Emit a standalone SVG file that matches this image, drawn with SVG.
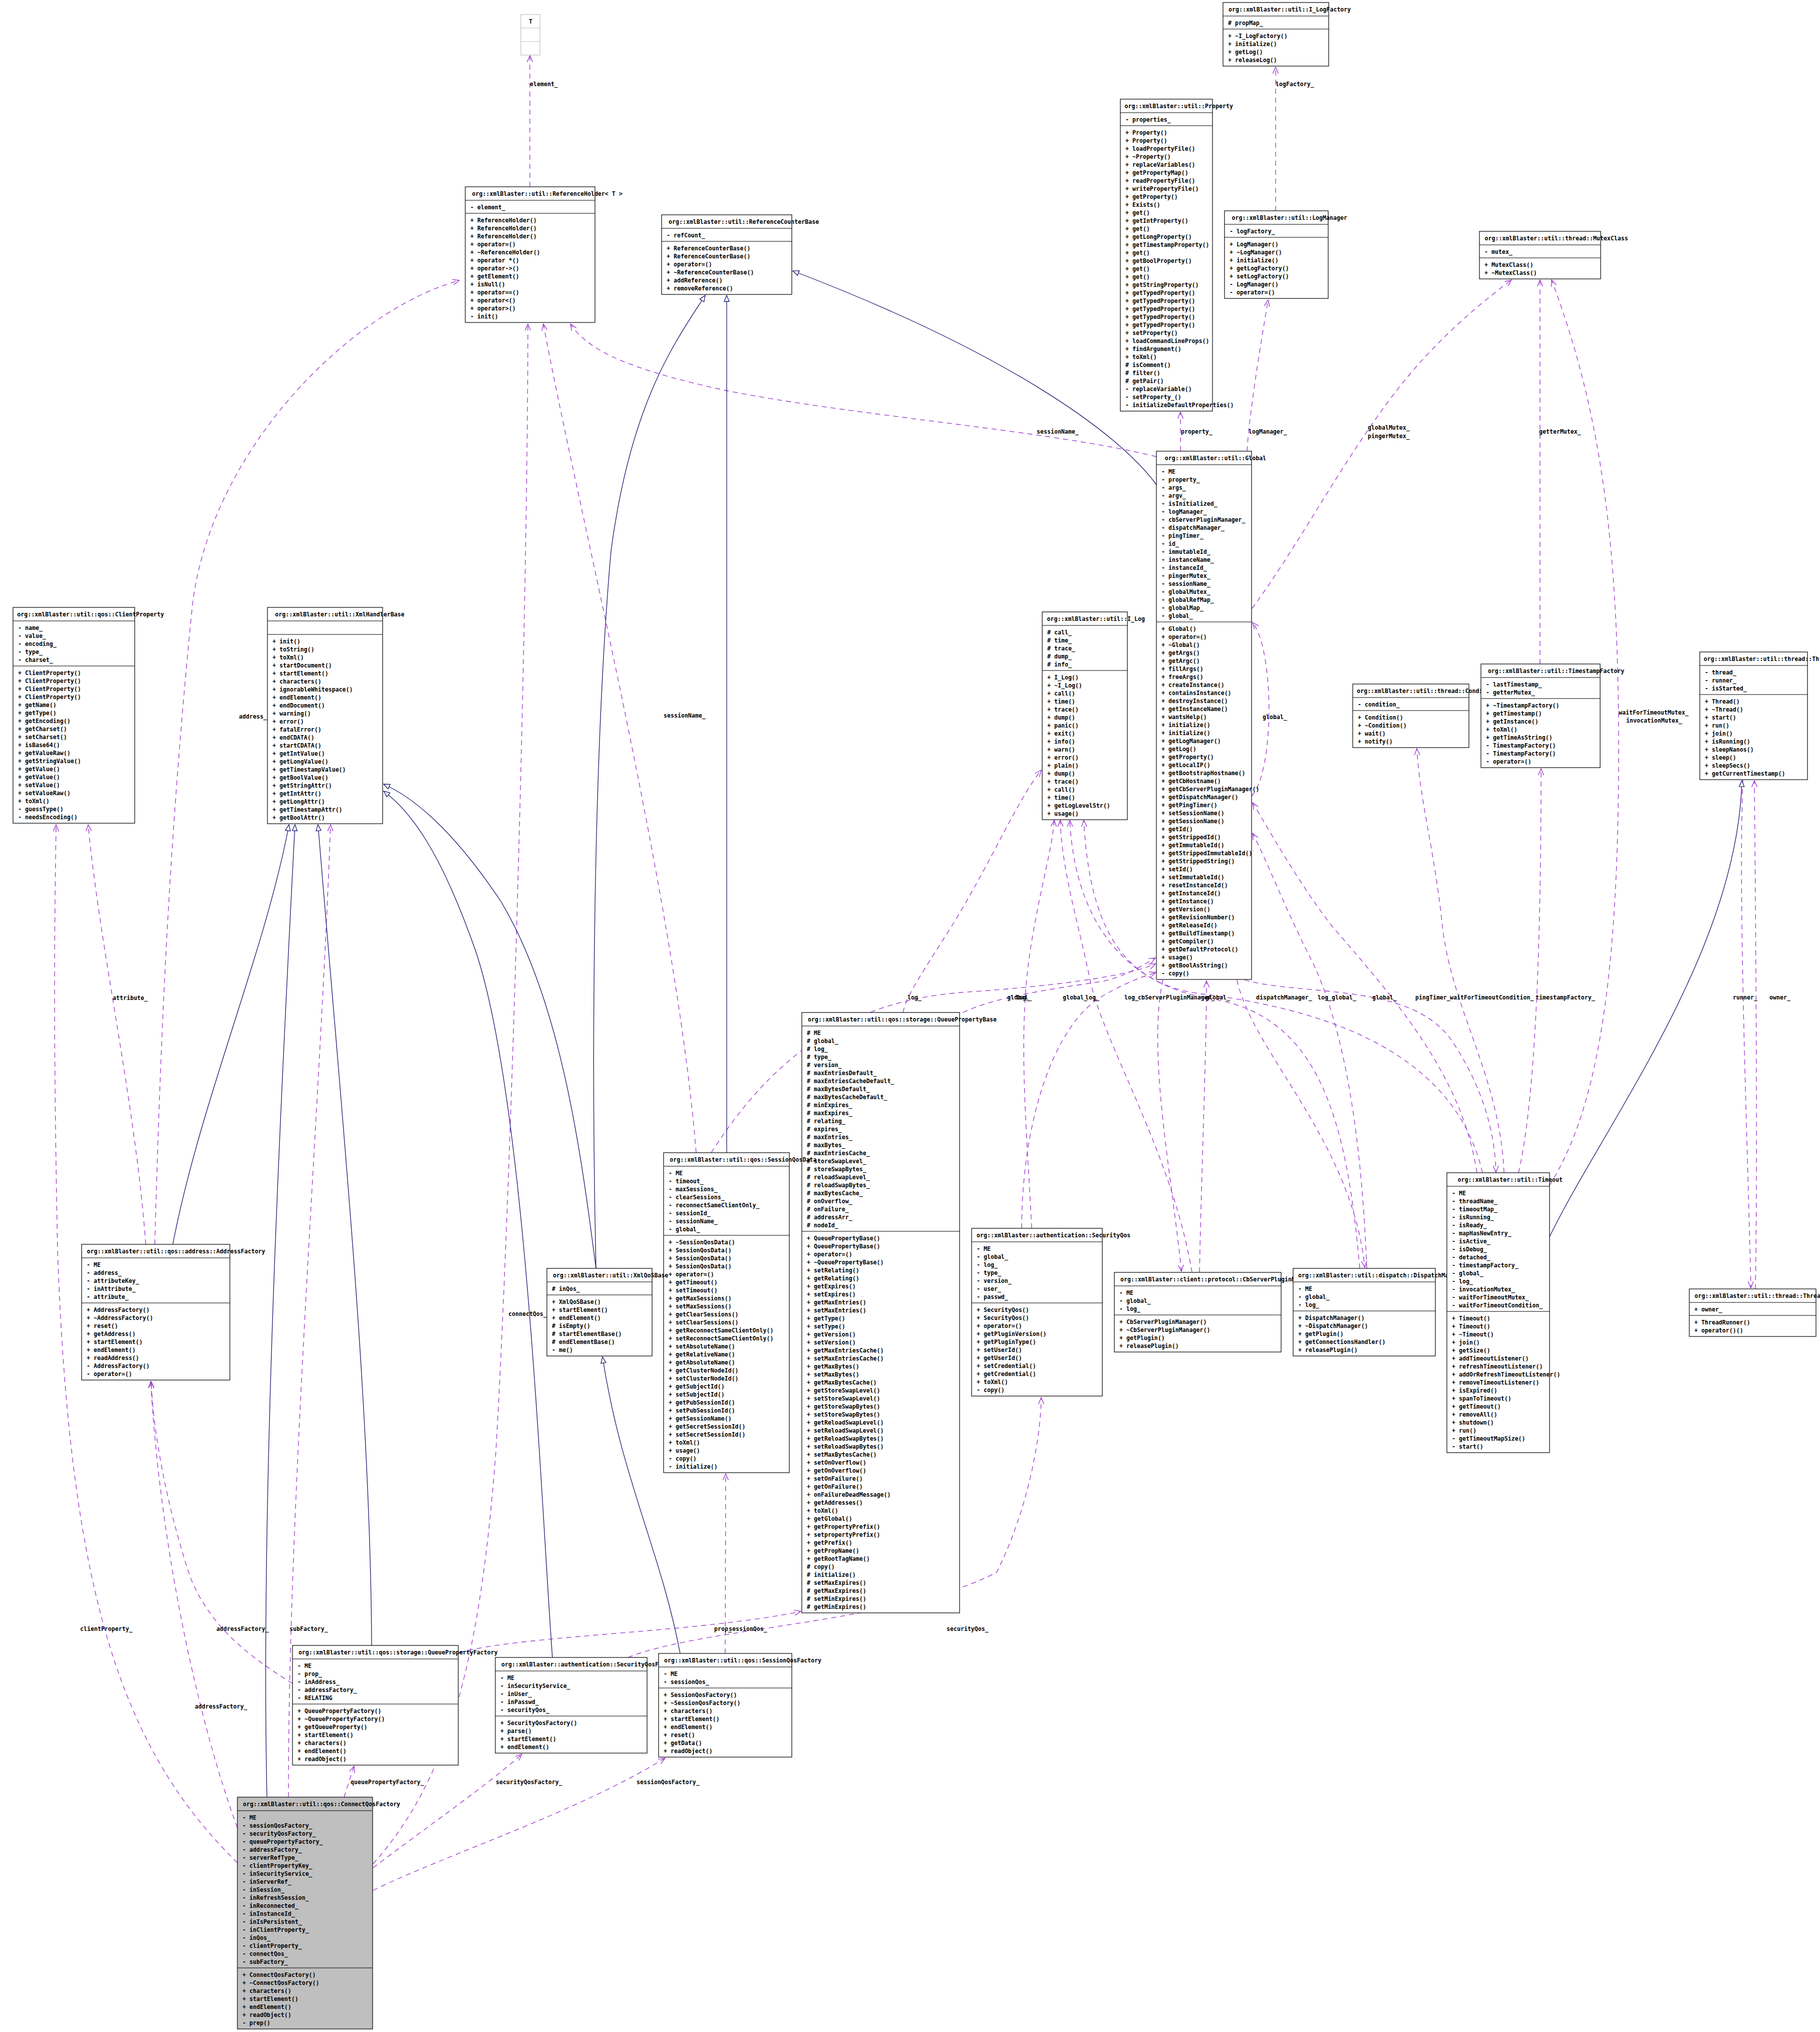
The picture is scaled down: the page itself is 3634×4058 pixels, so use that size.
<svg xmlns="http://www.w3.org/2000/svg" width="3634" height="4058" viewBox="0 0 3634 4058">
<style>
text{font-family:"DejaVu Sans Mono","Liberation Mono",monospace;font-size:11.6px;font-weight:bold;fill:#000}
.bx{fill:#fff;stroke:#000;stroke-width:1.2}
.gy{fill:#fff;stroke:#bfbfbf;stroke-width:1.2}
.cq{fill:#bfbfbf;stroke:#000;stroke-width:1.2}
.sp{stroke:#000;stroke-width:1.2}
.sg{stroke:#bfbfbf;stroke-width:1.2}
.u{fill:none;stroke:#9a32cd;stroke-width:1.3;stroke-dasharray:10 8;marker-end:url(#v)}
.i{fill:none;stroke:#191970;stroke-width:1.3;marker-end:url(#t)}
</style>
<defs>
<marker id="v" viewBox="0 0 14 12" refX="13" refY="6" markerWidth="14" markerHeight="12" markerUnits="userSpaceOnUse" orient="auto"><path d="M0,0.5 L13,6 L0,11.5" fill="none" stroke="#9a32cd" stroke-width="1.3"/></marker>
<marker id="t" viewBox="0 0 14 12" refX="13" refY="6" markerWidth="14" markerHeight="12" markerUnits="userSpaceOnUse" orient="auto"><path d="M1,1 L13,6 L1,11 Z" fill="#fff" stroke="#191970" stroke-width="1.3"/></marker>
</defs>
<rect x="0" y="0" width="3634" height="4058" fill="#fff"/>

<g id="connectors">
<path class="u" d="M1058,373 L1058,111"/>
<path class="u" d="M2547,421 L2547,134"/>
<path class="u" d="M2357,901 L2357,823"/>
<path class="u" d="M2490,901 C2494,830 2515,700 2532,599"/>
<path class="u" d="M2309,912 C2100,860 1700,830 1450,780 C1290,745 1180,710 1139,647"/>
<path class="u" d="M2500,1215 C2600,1080 2690,900 2810,753 C2880,670 2950,610 3018,559"/>
<path class="u" d="M3075,1326 L3075,559"/>
<path class="u" d="M3094,2367 C3180,2230 3232,2000 3232,1500 C3232,1100 3200,830 3098,559"/>
<path class="u" d="M2499,1590 C2545,1540 2545,1300 2501,1243"/>
<path class="u" d="M2485,1957 C2600,1990 2820,1960 2900,2080 C2960,2170 2985,2260 2987,2341"/>
<path class="u" d="M3003,2342 C2995,2150 2900,2020 2880,1850 C2865,1700 2835,1600 2829,1495"/>
<path class="u" d="M3032,2342 C3065,2200 3077,1900 3077,1535"/>
<path class="u" d="M3480,1558 C3470,1800 3490,2300 3496,2572"/>
<path class="u" d="M3505,2574 C3510,2300 3505,1800 3503,1559"/>
<path class="u" d="M2949,2342 C2920,2150 2790,2000 2660,1850 C2590,1760 2530,1650 2501,1603"/>
<path class="u" d="M2960,2342 C2900,2080 2600,2010 2400,1985 C2240,1965 2175,1850 2164,1638"/>
<path class="u" d="M2729,2533 C2720,2300 2690,2050 2610,1900 C2560,1800 2530,1720 2501,1664"/>
<path class="u" d="M2715,2533 C2690,2250 2640,2030 2420,1995 C2230,1965 2145,1820 2136,1638"/>
<path class="u" d="M2470,1957 C2500,2100 2700,2280 2725,2531"/>
<path class="u" d="M2395,2541 C2400,2300 2409,2100 2409,1959"/>
<path class="u" d="M2322,1957 C2290,2100 2340,2350 2359,2539"/>
<path class="u" d="M2380,2541 C2340,2300 2200,2080 2175,1950 C2155,1850 2120,1740 2117,1638"/>
<path class="u" d="M2040,2453 C2040,2250 2100,2050 2200,1990 C2250,1960 2290,1948 2308,1942"/>
<path class="u" d="M2060,2453 C2050,2250 2030,2050 2060,1880 C2080,1760 2100,1700 2105,1638"/>
<path class="u" d="M1803,2022 C1810,1990 1830,1960 1900,1850 C1980,1720 2030,1600 2079,1538"/>
<path class="u" d="M1923,2022 C1990,1990 2100,1975 2200,1960 C2250,1950 2285,1925 2307,1913"/>
<path class="u" d="M1420,2302 C1550,2100 1700,2000 1919,1982 C2100,1970 2250,1950 2307,1925"/>
<path class="u" d="M1390,2302 C1350,1800 1150,1000 1085,647"/>
<path class="u" d="M745,3722 C900,3550 960,3300 990,2900 C1020,2400 1054,1200 1054,647"/>
<path class="u" d="M576,3589 C575,3000 640,2200 660,1647"/>
<path class="u" d="M474,3720 C250,3500 140,3200 115,2500 C105,2000 110,1800 112,1647"/>
<path class="u" d="M474,3650 C400,3450 320,3100 301,2759"/>
<path class="u" d="M584,3362 C500,3310 420,3250 380,3150 C330,3000 305,2850 302,2759"/>
<path class="u" d="M291,2485 C270,2200 200,1900 176,1647"/>
<path class="u" d="M309,2485 C320,2100 335,1700 384,1210 C420,900 700,620 917,560"/>
<path class="u" d="M687,3589 L707,3527"/>
<path class="u" d="M745,3730 C850,3650 980,3560 1042,3503"/>
<path class="u" d="M745,3775 C900,3700 1150,3620 1328,3511"/>
<path class="u" d="M917,3300 C1050,3265 1400,3260 1599,3218"/>
<path class="u" d="M1448,3302 L1449,2943"/>
<path class="u" d="M1254,3310 C1400,3250 1800,3240 1990,3140 C2060,3000 2079,2850 2079,2791"/>
<path class="i" d="M2309,968 C2230,860 2000,700 1583,541"/>
<path class="i" d="M1451,2302 L1451,590"/>
<path class="i" d="M1190,2533 C1180,2100 1185,1500 1220,1100 C1260,800 1350,680 1408,590"/>
<path class="i" d="M1190,2533 C1160,2300 1120,2000 1000,1800 C900,1650 820,1590 766,1566"/>
<path class="i" d="M1103,3310 C1080,3000 1050,2200 950,1900 C880,1700 820,1620 766,1580"/>
<path class="i" d="M1358,3302 C1320,3100 1240,2950 1203,2710"/>
<path class="i" d="M742,3286 C740,2800 680,2200 635,1647"/>
<path class="i" d="M533,3589 C520,3000 560,2200 589,1647"/>
<path class="i" d="M345,2485 C400,2200 530,1900 577,1647"/>
<path class="i" d="M3093,2472 C3200,2250 3470,1900 3478,1559"/>
<text x="1058" y="172">element_</text>
<text x="2547" y="172">logFactory_</text>
<text x="2358" y="866">property_</text>
<text x="2493" y="866">logManager_</text>
<text x="2070" y="866">sessionName_</text>
<text x="2731" y="858">globalMutex_</text>
<text x="2731" y="875">pingerMutex_</text>
<text x="3073" y="866">getterMutex_</text>
<text x="3232" y="1427">waitForTimeoutMutex_</text>
<text x="3247" y="1443">invocationMutex_</text>
<text x="2521" y="1436">global_</text>
<text x="1325" y="1433">sessionName_</text>
<text x="477" y="1435">address_</text>
<text x="225" y="1997">attribute_</text>
<text x="1812" y="1996">log_</text>
<text x="2011" y="1996">global_</text>
<text x="2028" y="1996">log_</text>
<text x="2122" y="1996">global_</text>
<text x="2167" y="1996">log_</text>
<text x="2245" y="1996">log_</text>
<text x="2272" y="1996">cbServerPluginManager_</text>
<text x="2407" y="1996">global_</text>
<text x="2508" y="1996">dispatchManager_</text>
<text x="2631" y="1996">log_</text>
<text x="2659" y="1996">global_</text>
<text x="2740" y="1996">global_</text>
<text x="2826" y="1996">pingTimer_</text>
<text x="2895" y="1996">waitForTimeoutCondition_</text>
<text x="3066" y="1996">timestampFactory_</text>
<text x="3460" y="1996">runner_</text>
<text x="3533" y="1996">owner_</text>
<text x="1015" y="2628">connectQos_</text>
<text x="160" y="3257">clientProperty_</text>
<text x="432" y="3257">addressFactory_</text>
<text x="578" y="3257">subFactory_</text>
<text x="1426" y="3257">prop_</text>
<text x="1455" y="3257">sessionQos_</text>
<text x="1890" y="3257">securityQos_</text>
<text x="389" y="3412">addressFactory_</text>
<text x="700" y="3563">queuePropertyFactory_</text>
<text x="990" y="3563">securityQosFactory_</text>
<text x="1271" y="3563">sessionQosFactory_</text>
</g>

<g id="n_T">
<rect class="gy" x="1040" y="29" width="38" height="81"/>
<line class="sg" x1="1040" y1="56" x2="1078" y2="56"/><line class="sg" x1="1040" y1="83" x2="1078" y2="83"/>
<text x="1056" y="47">T</text>
</g>

<g id="n_ReferenceHolder">
<rect class="bx" x="929" y="373" width="259" height="271"/>
<line class="sp" x1="929" y1="400" x2="1188" y2="400"/><line class="sp" x1="929" y1="426" x2="1188" y2="426"/>
<text x="942.6" y="391">org::xmlBlaster::util::ReferenceHolder&lt; T &gt;</text>
<text x="939" y="418">- element_</text>
<text x="939" y="444"><tspan x="939">+ ReferenceHolder()</tspan><tspan x="939" dy="16">+ ReferenceHolder()</tspan><tspan x="939" dy="16">+ ReferenceHolder()</tspan><tspan x="939" dy="16">+ operator=()</tspan><tspan x="939" dy="16">+ ~ReferenceHolder()</tspan><tspan x="939" dy="16">+ operator *()</tspan><tspan x="939" dy="16">+ operator-&gt;()</tspan><tspan x="939" dy="16">+ getElement()</tspan><tspan x="939" dy="16">+ isNull()</tspan><tspan x="939" dy="16">+ operator==()</tspan><tspan x="939" dy="16">+ operator&lt;()</tspan><tspan x="939" dy="16">+ operator&gt;()</tspan><tspan x="939" dy="16">- init()</tspan></text>
</g>

<g id="n_ReferenceCounterBase">
<rect class="bx" x="1321" y="429" width="260" height="159"/>
<line class="sp" x1="1321" y1="456" x2="1581" y2="456"/><line class="sp" x1="1321" y1="482" x2="1581" y2="482"/>
<text x="1335" y="447">org::xmlBlaster::util::ReferenceCounterBase</text>
<text x="1331" y="474">- refCount_</text>
<text x="1331" y="500"><tspan x="1331">+ ReferenceCounterBase()</tspan><tspan x="1331" dy="16">+ ReferenceCounterBase()</tspan><tspan x="1331" dy="16">+ operator=()</tspan><tspan x="1331" dy="16">+ ~ReferenceCounterBase()</tspan><tspan x="1331" dy="16">+ addReference()</tspan><tspan x="1331" dy="16">+ removeReference()</tspan></text>
</g>

<g id="n_I_LogFactory">
<rect class="bx" x="2442" y="5" width="211" height="127"/>
<line class="sp" x1="2442" y1="32" x2="2653" y2="32"/><line class="sp" x1="2442" y1="58" x2="2653" y2="58"/>
<text x="2453" y="23">org::xmlBlaster::util::I_LogFactory</text>
<text x="2452" y="50"># propMap_</text>
<text x="2452" y="76"><tspan x="2452">+ ~I_LogFactory()</tspan><tspan x="2452" dy="16">+ initialize()</tspan><tspan x="2452" dy="16">+ getLog()</tspan><tspan x="2452" dy="16">+ releaseLog()</tspan></text>
</g>

<g id="n_Property">
<rect class="bx" x="2237" y="198" width="184" height="623"/>
<line class="sp" x1="2237" y1="225" x2="2421" y2="225"/><line class="sp" x1="2237" y1="251" x2="2421" y2="251"/>
<text x="2245.5" y="216">org::xmlBlaster::util::Property</text>
<text x="2247" y="243">- properties_</text>
<text x="2247" y="269"><tspan x="2247">+ Property()</tspan><tspan x="2247" dy="16">+ Property()</tspan><tspan x="2247" dy="16">+ loadPropertyFile()</tspan><tspan x="2247" dy="16">+ ~Property()</tspan><tspan x="2247" dy="16">+ replaceVariables()</tspan><tspan x="2247" dy="16">+ getPropertyMap()</tspan><tspan x="2247" dy="16">+ readPropertyFile()</tspan><tspan x="2247" dy="16">+ writePropertyFile()</tspan><tspan x="2247" dy="16">+ getProperty()</tspan><tspan x="2247" dy="16">+ Exists()</tspan><tspan x="2247" dy="16">+ get()</tspan><tspan x="2247" dy="16">+ getIntProperty()</tspan><tspan x="2247" dy="16">+ get()</tspan><tspan x="2247" dy="16">+ getLongProperty()</tspan><tspan x="2247" dy="16">+ getTimestampProperty()</tspan><tspan x="2247" dy="16">+ get()</tspan><tspan x="2247" dy="16">+ getBoolProperty()</tspan><tspan x="2247" dy="16">+ get()</tspan><tspan x="2247" dy="16">+ get()</tspan><tspan x="2247" dy="16">+ getStringProperty()</tspan><tspan x="2247" dy="16">+ getTypedProperty()</tspan><tspan x="2247" dy="16">+ getTypedProperty()</tspan><tspan x="2247" dy="16">+ getTypedProperty()</tspan><tspan x="2247" dy="16">+ getTypedProperty()</tspan><tspan x="2247" dy="16">+ getTypedProperty()</tspan><tspan x="2247" dy="16">+ setProperty()</tspan><tspan x="2247" dy="16">+ loadCommandLineProps()</tspan><tspan x="2247" dy="16">+ findArgument()</tspan><tspan x="2247" dy="16">+ toXml()</tspan><tspan x="2247" dy="16"># isComment()</tspan><tspan x="2247" dy="16"># filter()</tspan><tspan x="2247" dy="16"># getPair()</tspan><tspan x="2247" dy="16">- replaceVariable()</tspan><tspan x="2247" dy="16">- setProperty_()</tspan><tspan x="2247" dy="16">- initializeDefaultProperties()</tspan></text>
</g>

<g id="n_LogManager">
<rect class="bx" x="2445" y="421" width="207" height="175"/>
<line class="sp" x1="2445" y1="448" x2="2652" y2="448"/><line class="sp" x1="2445" y1="474" x2="2652" y2="474"/>
<text x="2459.6" y="439">org::xmlBlaster::util::LogManager</text>
<text x="2455" y="466">- logFactory_</text>
<text x="2455" y="492"><tspan x="2455">+ LogManager()</tspan><tspan x="2455" dy="16">+ ~LogManager()</tspan><tspan x="2455" dy="16">+ initialize()</tspan><tspan x="2455" dy="16">+ getLogFactory()</tspan><tspan x="2455" dy="16">+ setLogFactory()</tspan><tspan x="2455" dy="16">- LogManager()</tspan><tspan x="2455" dy="16">- operator=()</tspan></text>
</g>

<g id="n_Global">
<rect class="bx" x="2309" y="901" width="190" height="1055"/>
<line class="sp" x1="2309" y1="928" x2="2499" y2="928"/><line class="sp" x1="2309" y1="1242" x2="2499" y2="1242"/>
<text x="2325.8" y="919">org::xmlBlaster::util::Global</text>
<text x="2319" y="946"><tspan x="2319">- ME</tspan><tspan x="2319" dy="16">- property_</tspan><tspan x="2319" dy="16">- args_</tspan><tspan x="2319" dy="16">- argv_</tspan><tspan x="2319" dy="16">- isInitialized_</tspan><tspan x="2319" dy="16">- logManager_</tspan><tspan x="2319" dy="16">- cbServerPluginManager_</tspan><tspan x="2319" dy="16">- dispatchManager_</tspan><tspan x="2319" dy="16">- pingTimer_</tspan><tspan x="2319" dy="16">- id_</tspan><tspan x="2319" dy="16">- immutableId_</tspan><tspan x="2319" dy="16">- instanceName_</tspan><tspan x="2319" dy="16">- instanceId_</tspan><tspan x="2319" dy="16">- pingerMutex_</tspan><tspan x="2319" dy="16">- sessionName_</tspan><tspan x="2319" dy="16">- globalMutex_</tspan><tspan x="2319" dy="16">- globalRefMap_</tspan><tspan x="2319" dy="16">- globalMap_</tspan><tspan x="2319" dy="16">- global_</tspan></text>
<text x="2319" y="1260"><tspan x="2319">+ Global()</tspan><tspan x="2319" dy="16">+ operator=()</tspan><tspan x="2319" dy="16">+ ~Global()</tspan><tspan x="2319" dy="16">+ getArgs()</tspan><tspan x="2319" dy="16">+ getArgc()</tspan><tspan x="2319" dy="16">+ fillArgs()</tspan><tspan x="2319" dy="16">+ freeArgs()</tspan><tspan x="2319" dy="16">+ createInstance()</tspan><tspan x="2319" dy="16">+ containsInstance()</tspan><tspan x="2319" dy="16">+ destroyInstance()</tspan><tspan x="2319" dy="16">+ getInstanceName()</tspan><tspan x="2319" dy="16">+ wantsHelp()</tspan><tspan x="2319" dy="16">+ initialize()</tspan><tspan x="2319" dy="16">+ initialize()</tspan><tspan x="2319" dy="16">+ getLogManager()</tspan><tspan x="2319" dy="16">+ getLog()</tspan><tspan x="2319" dy="16">+ getProperty()</tspan><tspan x="2319" dy="16">+ getLocalIP()</tspan><tspan x="2319" dy="16">+ getBootstrapHostname()</tspan><tspan x="2319" dy="16">+ getCbHostname()</tspan><tspan x="2319" dy="16">+ getCbServerPluginManager()</tspan><tspan x="2319" dy="16">+ getDispatchManager()</tspan><tspan x="2319" dy="16">+ getPingTimer()</tspan><tspan x="2319" dy="16">+ setSessionName()</tspan><tspan x="2319" dy="16">+ getSessionName()</tspan><tspan x="2319" dy="16">+ getId()</tspan><tspan x="2319" dy="16">+ getStrippedId()</tspan><tspan x="2319" dy="16">+ getImmutableId()</tspan><tspan x="2319" dy="16">+ getStrippedImmutableId()</tspan><tspan x="2319" dy="16">+ getStrippedString()</tspan><tspan x="2319" dy="16">+ setId()</tspan><tspan x="2319" dy="16">+ setImmutableId()</tspan><tspan x="2319" dy="16">+ resetInstanceId()</tspan><tspan x="2319" dy="16">+ getInstanceId()</tspan><tspan x="2319" dy="16">+ getInstance()</tspan><tspan x="2319" dy="16">+ getVersion()</tspan><tspan x="2319" dy="16">+ getRevisionNumber()</tspan><tspan x="2319" dy="16">+ getReleaseId()</tspan><tspan x="2319" dy="16">+ getBuildTimestamp()</tspan><tspan x="2319" dy="16">+ getCompiler()</tspan><tspan x="2319" dy="16">+ getDefaultProtocol()</tspan><tspan x="2319" dy="16">+ usage()</tspan><tspan x="2319" dy="16">+ getBoolAsString()</tspan><tspan x="2319" dy="16">- copy()</tspan></text>
</g>

<g id="n_I_Log">
<rect class="bx" x="2081" y="1222" width="170" height="415"/>
<line class="sp" x1="2081" y1="1249" x2="2251" y2="1249"/><line class="sp" x1="2081" y1="1339" x2="2251" y2="1339"/>
<text x="2090.5" y="1240">org::xmlBlaster::util::I_Log</text>
<text x="2091" y="1267"><tspan x="2091"># call_</tspan><tspan x="2091" dy="16"># time_</tspan><tspan x="2091" dy="16"># trace_</tspan><tspan x="2091" dy="16"># dump_</tspan><tspan x="2091" dy="16"># info_</tspan></text>
<text x="2091" y="1357"><tspan x="2091">+ I_Log()</tspan><tspan x="2091" dy="16">+ ~I_Log()</tspan><tspan x="2091" dy="16">+ call()</tspan><tspan x="2091" dy="16">+ time()</tspan><tspan x="2091" dy="16">+ trace()</tspan><tspan x="2091" dy="16">+ dump()</tspan><tspan x="2091" dy="16">+ panic()</tspan><tspan x="2091" dy="16">+ exit()</tspan><tspan x="2091" dy="16">+ info()</tspan><tspan x="2091" dy="16">+ warn()</tspan><tspan x="2091" dy="16">+ error()</tspan><tspan x="2091" dy="16">+ plain()</tspan><tspan x="2091" dy="16">+ dump()</tspan><tspan x="2091" dy="16">+ trace()</tspan><tspan x="2091" dy="16">+ call()</tspan><tspan x="2091" dy="16">+ time()</tspan><tspan x="2091" dy="16">+ getLogLevelStr()</tspan><tspan x="2091" dy="16">+ usage()</tspan></text>
</g>

<g id="n_MutexClass">
<rect class="bx" x="2954" y="462" width="242" height="95"/>
<line class="sp" x1="2954" y1="489" x2="3196" y2="489"/><line class="sp" x1="2954" y1="515" x2="3196" y2="515"/>
<text x="2964.5" y="480">org::xmlBlaster::util::thread::MutexClass</text>
<text x="2964" y="507">- mutex_</text>
<text x="2964" y="533"><tspan x="2964">+ MutexClass()</tspan><tspan x="2964" dy="16">+ ~MutexClass()</tspan></text>
</g>

<g id="n_Condition">
<rect class="bx" x="2701" y="1366" width="232" height="127"/>
<line class="sp" x1="2701" y1="1393" x2="2933" y2="1393"/><line class="sp" x1="2701" y1="1419" x2="2933" y2="1419"/>
<text x="2709.2" y="1384">org::xmlBlaster::util::thread::Condition</text>
<text x="2711" y="1411">- condition_</text>
<text x="2711" y="1437"><tspan x="2711">+ Condition()</tspan><tspan x="2711" dy="16">+ ~Condition()</tspan><tspan x="2711" dy="16">+ wait()</tspan><tspan x="2711" dy="16">+ notify()</tspan></text>
</g>

<g id="n_TimestampFactory">
<rect class="bx" x="2957" y="1326" width="238" height="207"/>
<line class="sp" x1="2957" y1="1353" x2="3195" y2="1353"/><line class="sp" x1="2957" y1="1395" x2="3195" y2="1395"/>
<text x="2970.9" y="1344">org::xmlBlaster::util::TimestampFactory</text>
<text x="2967" y="1371"><tspan x="2967">- lastTimestamp_</tspan><tspan x="2967" dy="16">- getterMutex_</tspan></text>
<text x="2967" y="1413"><tspan x="2967">+ ~TimestampFactory()</tspan><tspan x="2967" dy="16">+ getTimestamp()</tspan><tspan x="2967" dy="16">+ getInstance()</tspan><tspan x="2967" dy="16">+ toXml()</tspan><tspan x="2967" dy="16">+ getTimeAsString()</tspan><tspan x="2967" dy="16">- TimestampFactory()</tspan><tspan x="2967" dy="16">- TimestampFactory()</tspan><tspan x="2967" dy="16">- operator=()</tspan></text>
</g>

<g id="n_Thread">
<rect class="bx" x="3394" y="1302" width="215" height="255"/>
<line class="sp" x1="3394" y1="1329" x2="3609" y2="1329"/><line class="sp" x1="3394" y1="1387" x2="3609" y2="1387"/>
<text x="3401.8" y="1320">org::xmlBlaster::util::thread::Thread</text>
<text x="3404" y="1347"><tspan x="3404">- thread_</tspan><tspan x="3404" dy="16">- runner_</tspan><tspan x="3404" dy="16">- isStarted_</tspan></text>
<text x="3404" y="1405"><tspan x="3404">+ Thread()</tspan><tspan x="3404" dy="16">+ ~Thread()</tspan><tspan x="3404" dy="16">+ start()</tspan><tspan x="3404" dy="16">+ run()</tspan><tspan x="3404" dy="16">+ join()</tspan><tspan x="3404" dy="16">+ isRunning()</tspan><tspan x="3404" dy="16">+ sleepNanos()</tspan><tspan x="3404" dy="16">+ sleep()</tspan><tspan x="3404" dy="16">+ sleepSecs()</tspan><tspan x="3404" dy="16">+ getCurrentTimestamp()</tspan></text>
</g>

<g id="n_ClientProperty">
<rect class="bx" x="26" y="1213" width="243" height="431"/>
<line class="sp" x1="26" y1="1240" x2="269" y2="1240"/><line class="sp" x1="26" y1="1330" x2="269" y2="1330"/>
<text x="34.3" y="1231">org::xmlBlaster::util::qos::ClientProperty</text>
<text x="36" y="1258"><tspan x="36">- name_</tspan><tspan x="36" dy="16">- value_</tspan><tspan x="36" dy="16">- encoding_</tspan><tspan x="36" dy="16">- type_</tspan><tspan x="36" dy="16">- charset_</tspan></text>
<text x="36" y="1348"><tspan x="36">+ ClientProperty()</tspan><tspan x="36" dy="16">+ ClientProperty()</tspan><tspan x="36" dy="16">+ ClientProperty()</tspan><tspan x="36" dy="16">+ ClientProperty()</tspan><tspan x="36" dy="16">+ getName()</tspan><tspan x="36" dy="16">+ getType()</tspan><tspan x="36" dy="16">+ getEncoding()</tspan><tspan x="36" dy="16">+ getCharset()</tspan><tspan x="36" dy="16">+ setCharset()</tspan><tspan x="36" dy="16">+ isBase64()</tspan><tspan x="36" dy="16">+ getValueRaw()</tspan><tspan x="36" dy="16">+ getStringValue()</tspan><tspan x="36" dy="16">+ getValue()</tspan><tspan x="36" dy="16">+ getValue()</tspan><tspan x="36" dy="16">+ setValue()</tspan><tspan x="36" dy="16">+ setValueRaw()</tspan><tspan x="36" dy="16">+ toXml()</tspan><tspan x="36" dy="16">- guessType()</tspan><tspan x="36" dy="16">- needsEncoding()</tspan></text>
</g>

<g id="n_XmlHandlerBase">
<rect class="bx" x="534" y="1213" width="230" height="432"/>
<line class="sp" x1="534" y1="1240" x2="764" y2="1240"/><line class="sp" x1="534" y1="1267" x2="764" y2="1267"/>
<text x="549.3" y="1231">org::xmlBlaster::util::XmlHandlerBase</text>
<text x="544" y="1285"><tspan x="544">+ init()</tspan><tspan x="544" dy="16">+ toString()</tspan><tspan x="544" dy="16">+ toXml()</tspan><tspan x="544" dy="16">+ startDocument()</tspan><tspan x="544" dy="16">+ startElement()</tspan><tspan x="544" dy="16">+ characters()</tspan><tspan x="544" dy="16">+ ignorableWhitespace()</tspan><tspan x="544" dy="16">+ endElement()</tspan><tspan x="544" dy="16">+ endDocument()</tspan><tspan x="544" dy="16">+ warning()</tspan><tspan x="544" dy="16">+ error()</tspan><tspan x="544" dy="16">+ fatalError()</tspan><tspan x="544" dy="16">+ endCDATA()</tspan><tspan x="544" dy="16">+ startCDATA()</tspan><tspan x="544" dy="16">+ getIntValue()</tspan><tspan x="544" dy="16">+ getLongValue()</tspan><tspan x="544" dy="16">+ getTimestampValue()</tspan><tspan x="544" dy="16">+ getBoolValue()</tspan><tspan x="544" dy="16">+ getStringAttr()</tspan><tspan x="544" dy="16">+ getIntAttr()</tspan><tspan x="544" dy="16">+ getLongAttr()</tspan><tspan x="544" dy="16">+ getTimestampAttr()</tspan><tspan x="544" dy="16">+ getBoolAttr()</tspan></text>
</g>

<g id="n_QueuePropertyBase">
<rect class="bx" x="1601" y="2022" width="315" height="1199"/>
<line class="sp" x1="1601" y1="2049" x2="1916" y2="2049"/><line class="sp" x1="1601" y1="2459" x2="1916" y2="2459"/>
<text x="1613" y="2040">org::xmlBlaster::util::qos::storage::QueuePropertyBase</text>
<text x="1611" y="2067"><tspan x="1611"># ME</tspan><tspan x="1611" dy="16"># global_</tspan><tspan x="1611" dy="16"># log_</tspan><tspan x="1611" dy="16"># type_</tspan><tspan x="1611" dy="16"># version_</tspan><tspan x="1611" dy="16"># maxEntriesDefault_</tspan><tspan x="1611" dy="16"># maxEntriesCacheDefault_</tspan><tspan x="1611" dy="16"># maxBytesDefault_</tspan><tspan x="1611" dy="16"># maxBytesCacheDefault_</tspan><tspan x="1611" dy="16"># minExpires_</tspan><tspan x="1611" dy="16"># maxExpires_</tspan><tspan x="1611" dy="16"># relating_</tspan><tspan x="1611" dy="16"># expires_</tspan><tspan x="1611" dy="16"># maxEntries_</tspan><tspan x="1611" dy="16"># maxBytes_</tspan><tspan x="1611" dy="16"># maxEntriesCache_</tspan><tspan x="1611" dy="16"># storeSwapLevel_</tspan><tspan x="1611" dy="16"># storeSwapBytes_</tspan><tspan x="1611" dy="16"># reloadSwapLevel_</tspan><tspan x="1611" dy="16"># reloadSwapBytes_</tspan><tspan x="1611" dy="16"># maxBytesCache_</tspan><tspan x="1611" dy="16"># onOverflow_</tspan><tspan x="1611" dy="16"># onFailure_</tspan><tspan x="1611" dy="16"># addressArr_</tspan><tspan x="1611" dy="16"># nodeId_</tspan></text>
<text x="1611" y="2477"><tspan x="1611">+ QueuePropertyBase()</tspan><tspan x="1611" dy="16">+ QueuePropertyBase()</tspan><tspan x="1611" dy="16">+ operator=()</tspan><tspan x="1611" dy="16">+ ~QueuePropertyBase()</tspan><tspan x="1611" dy="16">+ setRelating()</tspan><tspan x="1611" dy="16">+ getRelating()</tspan><tspan x="1611" dy="16">+ getExpires()</tspan><tspan x="1611" dy="16">+ setExpires()</tspan><tspan x="1611" dy="16">+ getMaxEntries()</tspan><tspan x="1611" dy="16">+ setMaxEntries()</tspan><tspan x="1611" dy="16">+ getType()</tspan><tspan x="1611" dy="16">+ setType()</tspan><tspan x="1611" dy="16">+ getVersion()</tspan><tspan x="1611" dy="16">+ setVersion()</tspan><tspan x="1611" dy="16">+ getMaxEntriesCache()</tspan><tspan x="1611" dy="16">+ setMaxEntriesCache()</tspan><tspan x="1611" dy="16">+ getMaxBytes()</tspan><tspan x="1611" dy="16">+ setMaxBytes()</tspan><tspan x="1611" dy="16">+ getMaxBytesCache()</tspan><tspan x="1611" dy="16">+ getStoreSwapLevel()</tspan><tspan x="1611" dy="16">+ setStoreSwapLevel()</tspan><tspan x="1611" dy="16">+ getStoreSwapBytes()</tspan><tspan x="1611" dy="16">+ setStoreSwapBytes()</tspan><tspan x="1611" dy="16">+ getReloadSwapLevel()</tspan><tspan x="1611" dy="16">+ setReloadSwapLevel()</tspan><tspan x="1611" dy="16">+ getReloadSwapBytes()</tspan><tspan x="1611" dy="16">+ setReloadSwapBytes()</tspan><tspan x="1611" dy="16">+ setMaxBytesCache()</tspan><tspan x="1611" dy="16">+ setOnOverflow()</tspan><tspan x="1611" dy="16">+ getOnOverflow()</tspan><tspan x="1611" dy="16">+ setOnFailure()</tspan><tspan x="1611" dy="16">+ getOnFailure()</tspan><tspan x="1611" dy="16">+ onFailureDeadMessage()</tspan><tspan x="1611" dy="16">+ getAddresses()</tspan><tspan x="1611" dy="16">+ toXml()</tspan><tspan x="1611" dy="16">+ getGlobal()</tspan><tspan x="1611" dy="16">+ getPropertyPrefix()</tspan><tspan x="1611" dy="16">+ setpropertyPrefix()</tspan><tspan x="1611" dy="16">+ getPrefix()</tspan><tspan x="1611" dy="16">+ getPropName()</tspan><tspan x="1611" dy="16">+ getRootTagName()</tspan><tspan x="1611" dy="16"># copy()</tspan><tspan x="1611" dy="16"># initialize()</tspan><tspan x="1611" dy="16"># setMaxExpires()</tspan><tspan x="1611" dy="16"># getMaxExpires()</tspan><tspan x="1611" dy="16"># setMinExpires()</tspan><tspan x="1611" dy="16"># getMinExpires()</tspan></text>
</g>

<g id="n_SessionQosData">
<rect class="bx" x="1325" y="2302" width="251" height="639"/>
<line class="sp" x1="1325" y1="2329" x2="1576" y2="2329"/><line class="sp" x1="1325" y1="2467" x2="1576" y2="2467"/>
<text x="1337.3" y="2320">org::xmlBlaster::util::qos::SessionQosData</text>
<text x="1335" y="2347"><tspan x="1335">- ME</tspan><tspan x="1335" dy="16">- timeout_</tspan><tspan x="1335" dy="16">- maxSessions_</tspan><tspan x="1335" dy="16">- clearSessions_</tspan><tspan x="1335" dy="16">- reconnectSameClientOnly_</tspan><tspan x="1335" dy="16">- sessionId_</tspan><tspan x="1335" dy="16">- sessionName_</tspan><tspan x="1335" dy="16">- global_</tspan></text>
<text x="1335" y="2485"><tspan x="1335">+ ~SessionQosData()</tspan><tspan x="1335" dy="16">+ SessionQosData()</tspan><tspan x="1335" dy="16">+ SessionQosData()</tspan><tspan x="1335" dy="16">+ SessionQosData()</tspan><tspan x="1335" dy="16">+ operator=()</tspan><tspan x="1335" dy="16">+ getTimeout()</tspan><tspan x="1335" dy="16">+ setTimeout()</tspan><tspan x="1335" dy="16">+ getMaxSessions()</tspan><tspan x="1335" dy="16">+ setMaxSessions()</tspan><tspan x="1335" dy="16">+ getClearSessions()</tspan><tspan x="1335" dy="16">+ setClearSessions()</tspan><tspan x="1335" dy="16">+ getReconnectSameClientOnly()</tspan><tspan x="1335" dy="16">+ setReconnectSameClientOnly()</tspan><tspan x="1335" dy="16">+ setAbsoluteName()</tspan><tspan x="1335" dy="16">+ getRelativeName()</tspan><tspan x="1335" dy="16">+ getAbsoluteName()</tspan><tspan x="1335" dy="16">+ getClusterNodeId()</tspan><tspan x="1335" dy="16">+ setClusterNodeId()</tspan><tspan x="1335" dy="16">+ getSubjectId()</tspan><tspan x="1335" dy="16">+ setSubjectId()</tspan><tspan x="1335" dy="16">+ getPubSessionId()</tspan><tspan x="1335" dy="16">+ setPubSessionId()</tspan><tspan x="1335" dy="16">+ getSessionName()</tspan><tspan x="1335" dy="16">+ getSecretSessionId()</tspan><tspan x="1335" dy="16">+ setSecretSessionId()</tspan><tspan x="1335" dy="16">+ toXml()</tspan><tspan x="1335" dy="16">+ usage()</tspan><tspan x="1335" dy="16">- copy()</tspan><tspan x="1335" dy="16">- initialize()</tspan></text>
</g>

<g id="n_XmlQoSBase">
<rect class="bx" x="1092" y="2533" width="210" height="175"/>
<line class="sp" x1="1092" y1="2560" x2="1302" y2="2560"/><line class="sp" x1="1092" y1="2586" x2="1302" y2="2586"/>
<text x="1104" y="2551">org::xmlBlaster::util::XmlQoSBase</text>
<text x="1102" y="2578"># inQos_</text>
<text x="1102" y="2604"><tspan x="1102">+ XmlQoSBase()</tspan><tspan x="1102" dy="16">+ startElement()</tspan><tspan x="1102" dy="16">+ endElement()</tspan><tspan x="1102" dy="16"># isEmpty()</tspan><tspan x="1102" dy="16"># startElementBase()</tspan><tspan x="1102" dy="16"># endElementBase()</tspan><tspan x="1102" dy="16">- me()</tspan></text>
</g>

<g id="n_AddressFactory">
<rect class="bx" x="163" y="2485" width="296" height="271"/>
<line class="sp" x1="163" y1="2512" x2="459" y2="2512"/><line class="sp" x1="163" y1="2602" x2="459" y2="2602"/>
<text x="173.6" y="2503">org::xmlBlaster::util::qos::address::AddressFactory</text>
<text x="173" y="2530"><tspan x="173">- ME</tspan><tspan x="173" dy="16">- address_</tspan><tspan x="173" dy="16">- attributeKey_</tspan><tspan x="173" dy="16">- inAttribute_</tspan><tspan x="173" dy="16">- attribute_</tspan></text>
<text x="173" y="2620"><tspan x="173">+ AddressFactory()</tspan><tspan x="173" dy="16">+ ~AddressFactory()</tspan><tspan x="173" dy="16">+ reset()</tspan><tspan x="173" dy="16">+ getAddress()</tspan><tspan x="173" dy="16">+ startElement()</tspan><tspan x="173" dy="16">+ endElement()</tspan><tspan x="173" dy="16">+ readAddress()</tspan><tspan x="173" dy="16">- AddressFactory()</tspan><tspan x="173" dy="16">- operator=()</tspan></text>
</g>

<g id="n_SecurityQos">
<rect class="bx" x="1940" y="2453" width="261" height="335"/>
<line class="sp" x1="1940" y1="2480" x2="2201" y2="2480"/><line class="sp" x1="1940" y1="2602" x2="2201" y2="2602"/>
<text x="1950" y="2471">org::xmlBlaster::authentication::SecurityQos</text>
<text x="1950" y="2498"><tspan x="1950">- ME</tspan><tspan x="1950" dy="16">- global_</tspan><tspan x="1950" dy="16">- log_</tspan><tspan x="1950" dy="16">- type_</tspan><tspan x="1950" dy="16">- version_</tspan><tspan x="1950" dy="16">- user_</tspan><tspan x="1950" dy="16">- passwd_</tspan></text>
<text x="1950" y="2620"><tspan x="1950">+ SecurityQos()</tspan><tspan x="1950" dy="16">+ SecurityQos()</tspan><tspan x="1950" dy="16">+ operator=()</tspan><tspan x="1950" dy="16">+ getPluginVersion()</tspan><tspan x="1950" dy="16">+ getPluginType()</tspan><tspan x="1950" dy="16">+ setUserId()</tspan><tspan x="1950" dy="16">+ getUserId()</tspan><tspan x="1950" dy="16">+ setCredential()</tspan><tspan x="1950" dy="16">+ getCredential()</tspan><tspan x="1950" dy="16">+ toXml()</tspan><tspan x="1950" dy="16">- copy()</tspan></text>
</g>

<g id="n_CbServerPluginManager">
<rect class="bx" x="2225" y="2541" width="333" height="159"/>
<line class="sp" x1="2225" y1="2568" x2="2558" y2="2568"/><line class="sp" x1="2225" y1="2626" x2="2558" y2="2626"/>
<text x="2237" y="2559">org::xmlBlaster::client::protocol::CbServerPluginManager</text>
<text x="2235" y="2586"><tspan x="2235">- ME</tspan><tspan x="2235" dy="16">- global_</tspan><tspan x="2235" dy="16">- log_</tspan></text>
<text x="2235" y="2644"><tspan x="2235">+ CbServerPluginManager()</tspan><tspan x="2235" dy="16">+ ~CbServerPluginManager()</tspan><tspan x="2235" dy="16">+ getPlugin()</tspan><tspan x="2235" dy="16">+ releasePlugin()</tspan></text>
</g>

<g id="n_DispatchManager">
<rect class="bx" x="2582" y="2533" width="284" height="175"/>
<line class="sp" x1="2582" y1="2560" x2="2866" y2="2560"/><line class="sp" x1="2582" y1="2618" x2="2866" y2="2618"/>
<text x="2592" y="2551">org::xmlBlaster::util::dispatch::DispatchManager</text>
<text x="2592" y="2578"><tspan x="2592">- ME</tspan><tspan x="2592" dy="16">- global_</tspan><tspan x="2592" dy="16">- log_</tspan></text>
<text x="2592" y="2636"><tspan x="2592">+ DispatchManager()</tspan><tspan x="2592" dy="16">+ ~DispatchManager()</tspan><tspan x="2592" dy="16">+ getPlugin()</tspan><tspan x="2592" dy="16">+ getConnectionsHandler()</tspan><tspan x="2592" dy="16">+ releasePlugin()</tspan></text>
</g>

<g id="n_Timeout">
<rect class="bx" x="2889" y="2342" width="205" height="559"/>
<line class="sp" x1="2889" y1="2369" x2="3094" y2="2369"/><line class="sp" x1="2889" y1="2619" x2="3094" y2="2619"/>
<text x="2910.6" y="2360">org::xmlBlaster::util::Timeout</text>
<text x="2899" y="2387"><tspan x="2899">- ME</tspan><tspan x="2899" dy="16">- threadName_</tspan><tspan x="2899" dy="16">- timeoutMap_</tspan><tspan x="2899" dy="16">- isRunning_</tspan><tspan x="2899" dy="16">- isReady_</tspan><tspan x="2899" dy="16">- mapHasNewEntry_</tspan><tspan x="2899" dy="16">- isActive_</tspan><tspan x="2899" dy="16">- isDebug_</tspan><tspan x="2899" dy="16">- detached_</tspan><tspan x="2899" dy="16">- timestampFactory_</tspan><tspan x="2899" dy="16">- global_</tspan><tspan x="2899" dy="16">- log_</tspan><tspan x="2899" dy="16">- invocationMutex_</tspan><tspan x="2899" dy="16">- waitForTimeoutMutex_</tspan><tspan x="2899" dy="16">- waitForTimeoutCondition_</tspan></text>
<text x="2899" y="2637"><tspan x="2899">+ Timeout()</tspan><tspan x="2899" dy="16">+ Timeout()</tspan><tspan x="2899" dy="16">+ ~Timeout()</tspan><tspan x="2899" dy="16">+ join()</tspan><tspan x="2899" dy="16">+ getSize()</tspan><tspan x="2899" dy="16">+ addTimeoutListener()</tspan><tspan x="2899" dy="16">+ refreshTimeoutListener()</tspan><tspan x="2899" dy="16">+ addOrRefreshTimeoutListener()</tspan><tspan x="2899" dy="16">+ removeTimeoutListener()</tspan><tspan x="2899" dy="16">+ isExpired()</tspan><tspan x="2899" dy="16">+ spanToTimeout()</tspan><tspan x="2899" dy="16">+ getTimeout()</tspan><tspan x="2899" dy="16">+ removeAll()</tspan><tspan x="2899" dy="16">+ shutdown()</tspan><tspan x="2899" dy="16">+ run()</tspan><tspan x="2899" dy="16">- getTimeoutMapSize()</tspan><tspan x="2899" dy="16">- start()</tspan></text>
</g>

<g id="n_ThreadRunner">
<rect class="bx" x="3373" y="2574" width="253" height="95"/>
<line class="sp" x1="3373" y1="2601" x2="3626" y2="2601"/><line class="sp" x1="3373" y1="2627" x2="3626" y2="2627"/>
<text x="3383.6" y="2592">org::xmlBlaster::util::thread::ThreadRunner</text>
<text x="3383" y="2619">+ owner_</text>
<text x="3383" y="2645"><tspan x="3383">+ ThreadRunner()</tspan><tspan x="3383" dy="16">+ operator()()</tspan></text>
</g>

<g id="n_QueuePropertyFactory">
<rect class="bx" x="584" y="3286" width="331" height="239"/>
<line class="sp" x1="584" y1="3313" x2="915" y2="3313"/><line class="sp" x1="584" y1="3403" x2="915" y2="3403"/>
<text x="595.9" y="3304">org::xmlBlaster::util::qos::storage::QueuePropertyFactory</text>
<text x="594" y="3331"><tspan x="594">- ME</tspan><tspan x="594" dy="16">- prop_</tspan><tspan x="594" dy="16">- inAddress_</tspan><tspan x="594" dy="16">- addressFactory_</tspan><tspan x="594" dy="16">- RELATING</tspan></text>
<text x="594" y="3421"><tspan x="594">+ QueuePropertyFactory()</tspan><tspan x="594" dy="16">+ ~QueuePropertyFactory()</tspan><tspan x="594" dy="16">+ getQueueProperty()</tspan><tspan x="594" dy="16">+ startElement()</tspan><tspan x="594" dy="16">+ characters()</tspan><tspan x="594" dy="16">+ endElement()</tspan><tspan x="594" dy="16">+ readObject()</tspan></text>
</g>

<g id="n_SecurityQosFactory">
<rect class="bx" x="989" y="3310" width="303" height="191"/>
<line class="sp" x1="989" y1="3337" x2="1292" y2="3337"/><line class="sp" x1="989" y1="3427" x2="1292" y2="3427"/>
<text x="1001" y="3328">org::xmlBlaster::authentication::SecurityQosFactory</text>
<text x="999" y="3355"><tspan x="999">- ME</tspan><tspan x="999" dy="16">- inSecurityService_</tspan><tspan x="999" dy="16">- inUser_</tspan><tspan x="999" dy="16">- inPasswd_</tspan><tspan x="999" dy="16">- securityQos_</tspan></text>
<text x="999" y="3445"><tspan x="999">+ SecurityQosFactory()</tspan><tspan x="999" dy="16">+ parse()</tspan><tspan x="999" dy="16">+ startElement()</tspan><tspan x="999" dy="16">+ endElement()</tspan></text>
</g>

<g id="n_SessionQosFactory">
<rect class="bx" x="1315" y="3302" width="266" height="207"/>
<line class="sp" x1="1315" y1="3329" x2="1581" y2="3329"/><line class="sp" x1="1315" y1="3371" x2="1581" y2="3371"/>
<text x="1326" y="3320">org::xmlBlaster::util::qos::SessionQosFactory</text>
<text x="1325" y="3347"><tspan x="1325">- ME</tspan><tspan x="1325" dy="16">- sessionQos_</tspan></text>
<text x="1325" y="3389"><tspan x="1325">+ SessionQosFactory()</tspan><tspan x="1325" dy="16">+ ~SessionQosFactory()</tspan><tspan x="1325" dy="16">+ characters()</tspan><tspan x="1325" dy="16">+ startElement()</tspan><tspan x="1325" dy="16">+ endElement()</tspan><tspan x="1325" dy="16">+ reset()</tspan><tspan x="1325" dy="16">+ getData()</tspan><tspan x="1325" dy="16">+ readObject()</tspan></text>
</g>

<g id="n_ConnectQosFactory">
<rect class="cq" x="474" y="3589" width="270" height="463"/>
<line class="sp" x1="474" y1="3616" x2="744" y2="3616"/><line class="sp" x1="474" y1="3930" x2="744" y2="3930"/>
<text x="485" y="3607">org::xmlBlaster::util::qos::ConnectQosFactory</text>
<text x="484" y="3634"><tspan x="484">- ME</tspan><tspan x="484" dy="16">- sessionQosFactory_</tspan><tspan x="484" dy="16">- securityQosFactory_</tspan><tspan x="484" dy="16">- queuePropertyFactory_</tspan><tspan x="484" dy="16">- addressFactory_</tspan><tspan x="484" dy="16">- serverRefType_</tspan><tspan x="484" dy="16">- clientPropertyKey_</tspan><tspan x="484" dy="16">- inSecurityService_</tspan><tspan x="484" dy="16">- inServerRef_</tspan><tspan x="484" dy="16">- inSession_</tspan><tspan x="484" dy="16">- inRefreshSession_</tspan><tspan x="484" dy="16">- inReconnected_</tspan><tspan x="484" dy="16">- inInstanceId_</tspan><tspan x="484" dy="16">- inIsPersistent_</tspan><tspan x="484" dy="16">- inClientProperty_</tspan><tspan x="484" dy="16">- inQos_</tspan><tspan x="484" dy="16">- clientProperty_</tspan><tspan x="484" dy="16">- connectQos_</tspan><tspan x="484" dy="16">- subFactory_</tspan></text>
<text x="484" y="3948"><tspan x="484">+ ConnectQosFactory()</tspan><tspan x="484" dy="16">+ ~ConnectQosFactory()</tspan><tspan x="484" dy="16">+ characters()</tspan><tspan x="484" dy="16">+ startElement()</tspan><tspan x="484" dy="16">+ endElement()</tspan><tspan x="484" dy="16">+ readObject()</tspan><tspan x="484" dy="16">- prep()</tspan></text>
</g>
</svg>
